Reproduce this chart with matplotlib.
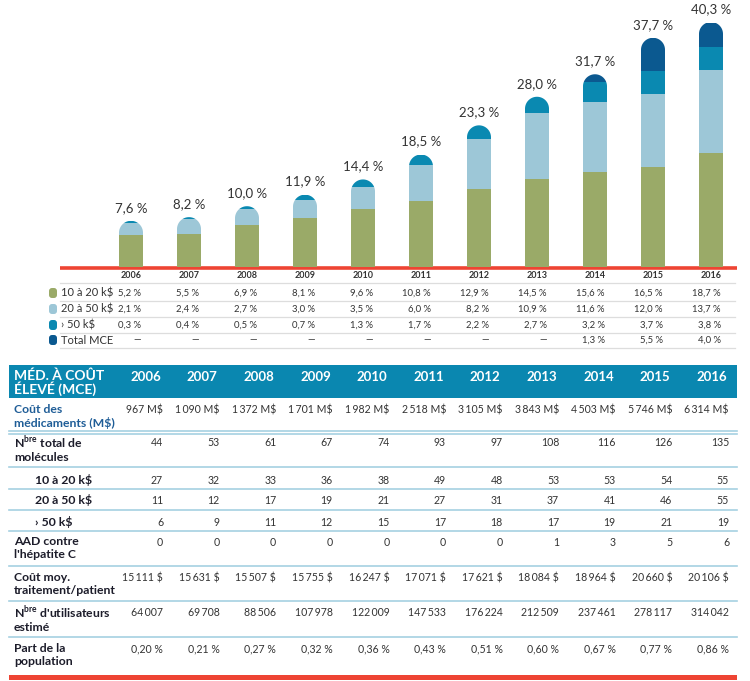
import numpy as np
import matplotlib
matplotlib.use("Agg")
import matplotlib.pyplot as plt
from matplotlib.patches import Polygon, Rectangle, FancyBboxPatch

plt.rcParams['font.family'] = ['Lato', 'DejaVu Sans']
plt.rcParams['mathtext.fontset'] = 'custom'
plt.rcParams['mathtext.rm'] = 'Lato:bold'

# ---- data ----
years = [2006, 2007, 2008, 2009, 2010, 2011, 2012, 2013, 2014, 2015, 2016]
part_10_20 = [5.2, 5.5, 6.9, 8.1, 9.6, 10.8, 12.9, 14.5, 15.6, 16.5, 18.7]
part_20_50 = [2.1, 2.4, 2.7, 3.0, 3.5, 6.0, 8.2, 10.9, 11.6, 12.0, 13.7]
part_50 = [0.3, 0.4, 0.5, 0.7, 1.3, 1.7, 2.2, 2.7, 3.2, 3.7, 3.8]
part_mce = [None, None, None, None, None, None, None, None, 1.3, 5.5, 4.0]
totals = [7.6, 8.2, 10.0, 11.9, 14.4, 18.5, 23.3, 28.0, 31.7, 37.7, 40.3]

cout_meds = [967, 1090, 1372, 1701, 1982, 2518, 3105, 3843, 4503, 5746, 6314]
nb_total = [44, 53, 61, 67, 74, 93, 97, 108, 116, 126, 135]
nb_10_20 = [27, 32, 33, 36, 38, 49, 48, 53, 53, 54, 55]
nb_20_50 = [11, 12, 17, 19, 21, 27, 31, 37, 41, 46, 55]
nb_50 = [6, 9, 11, 12, 15, 17, 18, 17, 19, 21, 19]
aad_hepc = [0, 0, 0, 0, 0, 0, 0, 1, 3, 5, 6]
cout_moy = [15111, 15631, 15507, 15755, 16247, 17071, 17621, 18084, 18964, 20660, 20106]
nb_util = [64007, 69708, 88506, 107978, 122009, 147533, 176224, 212509, 237461, 278117, 314042]
part_pop = [0.20, 0.21, 0.27, 0.32, 0.36, 0.43, 0.51, 0.60, 0.67, 0.77, 0.86]

series_names = ['10 à 20 k$', '20 à 50 k$', '› 50 k$', 'Total MCE']
colors = ['#9aaa68', '#9dc7d7', '#0a89b1', '#0b5990']
RED = '#ee4433'
LINE = '#a6d1e1'
TXT = '#333333'
HEAD = '#0a87b0'


def fmt_int(v):
    return f"{v:,}".replace(',', '\u2009')


def fmt_pct(v, d=1):
    if v is None:
        return '—'
    return f"{v:.{d}f}".replace('.', ',') + ' %'


W, H = 750, 681
fig = plt.figure(figsize=(W / 100, H / 100), dpi=100)

# background axes in pixel units for the tables
tab = fig.add_axes([0, 0, 1, 1])
tab.set_xlim(0, W)
tab.set_ylim(H, 0)
tab.axis('off')

# bar axes (pixel scale: 58 px per year, 6.08 px per %)
base_px = 267
ppx, ppy = 58.0, 6.08
x0_px = 131
ax = fig.add_axes([0, 1 - base_px / H, 1, base_px / H])
ax.set_xlim(-x0_px / ppx, (W - x0_px) / ppx)
ax.set_ylim(0, base_px / ppy)
ax.axis('off')

x = np.arange(len(years))
bw = 24 / ppx
ry = 12 / ppy
stacks = [part_10_20, part_20_50, part_50, [v if v is not None else 0 for v in part_mce]]
bottom = np.zeros(len(years))
bars = []
for vals, c in zip(stacks, colors):
    b = ax.bar(x, vals, bw, bottom=bottom, color=c, linewidth=0, zorder=2)
    bars.append(b)
    bottom = bottom + np.array(vals)

# rounded top: clip every stacked bar with a bar outline ending in a half ellipse
theta = np.linspace(0, np.pi, 50)
for i in range(len(years)):
    top = totals[i]
    verts = [(x[i] - bw / 2, 0), (x[i] + bw / 2, 0)]
    verts += list(zip(x[i] + bw / 2 * np.cos(theta), top - ry + ry * np.sin(theta)))
    clip = Polygon(verts, closed=True, transform=ax.transData)
    for b in bars:
        b.patches[i].set_clip_path(clip)
    ax.annotate(fmt_pct(totals[i]), (x[i], top), xytext=(0, 13), textcoords='offset pixels',
                ha='center', va='center', fontsize=9.5, color=TXT)

# red baseline
tab.plot([60, 737], [268, 268], color=RED, lw=2.6, solid_capstyle='butt', zorder=3)

# ---- legend table under bars ----
bar_cx = [x0_px + ppx * i for i in range(len(years))]
for i, yr in enumerate(years):
    tab.text(bar_cx[i], 276, str(yr), ha='center', va='center', fontsize=6.5,
             fontweight='bold', color=TXT)
for yl in [283, 301, 317, 333, 348]:
    tab.plot([60, 735], [yl, yl], color='#dddddd', lw=0.9)
row_y = [293, 309, 325, 340]
leg_vals = [part_10_20, part_20_50, part_50, part_mce]
for k in range(4):
    tab.add_patch(FancyBboxPatch((49, row_y[k] - 5), 8, 10, boxstyle='round,pad=0,rounding_size=3',
                                 color=colors[k], linewidth=0))
    tab.text(61, row_y[k], series_names[k], ha='left', va='center', fontsize=8, color=TXT)
    for i in range(len(years)):
        tab.text(bar_cx[i] + 10, row_y[k], fmt_pct(leg_vals[k][i]), ha='right', va='center',
                 fontsize=6.8, color=TXT)

# ---- main table ----
tab.add_patch(Rectangle((9, 365), 728, 33, color=HEAD, linewidth=0))
tab.text(14, 383, 'MÉD. À COÛT\nÉLEVÉ (MCE)', ha='left', va='center', fontsize=10,
         fontweight='bold', color='white', linespacing=0.95)
col_r = [163 + 56.6 * i for i in range(len(years))]
for i, yr in enumerate(years):
    tab.text(col_r[i] - 2, 377, str(yr), ha='right', va='center', fontsize=9.5,
             fontweight='bold', color='white')

rows = [
    ('Coût des\nmédicaments (M$)', 410, [fmt_int(v) + ' M$' for v in cout_meds], 14, '#1f5d97'),
    (r'N$^{\mathrm{bre}}$ total de' + '\nmolécules', 443, [str(v) for v in nb_total], 14, '#1c1c2a'),
    ('10 à 20 k$', 480, [str(v) for v in nb_10_20], 35, '#1c1c2a'),
    ('20 à 50 k$', 500, [str(v) for v in nb_20_50], 35, '#1c1c2a'),
    ('› 50 k$', 522, [str(v) for v in nb_50], 35, '#1c1c2a'),
    ("AAD contre\nl'hépatite C", 542, [str(v) for v in aad_hepc], 14, '#1c1c2a'),
    ('Coût moy.\ntraitement/patient', 578, [fmt_int(v) + ' $' for v in cout_moy], 14, '#1c1c2a'),
    (r'N$^{\mathrm{bre}}$' + " d'utilisateurs\nestimé", 613, [fmt_int(v) for v in nb_util], 14, '#1c1c2a'),
    ('Part de la\npopulation', 649, [fmt_pct(v, 2) for v in part_pop], 14, '#1c1c2a'),
]
for label, yv, vals, lx, lc in rows:
    if '\n' in label:
        # superscript rows are taller at the top, so start them a little higher
        dy = 9 if 'bre' in label else 6
        tab.text(lx, yv - dy, label, ha='left', va='top', fontsize=8.8, fontweight='bold',
                 color=lc, linespacing=1.2)
    else:
        tab.text(lx, yv, label, ha='left', va='center', fontsize=8.8, fontweight='bold', color=lc)
    for i in range(len(years)):
        tab.text(col_r[i], yv, vals[i], ha='right', va='center', fontsize=7.6, color=TXT)

for yl in [431, 434, 467, 489, 510, 531, 566, 601, 637]:
    tab.plot([9, 737], [yl, yl], color=LINE, lw=1.2)
tab.add_patch(Rectangle((9, 675), 728, 4.5, color=RED, linewidth=0))

fig.savefig('out.png', dpi=100)
